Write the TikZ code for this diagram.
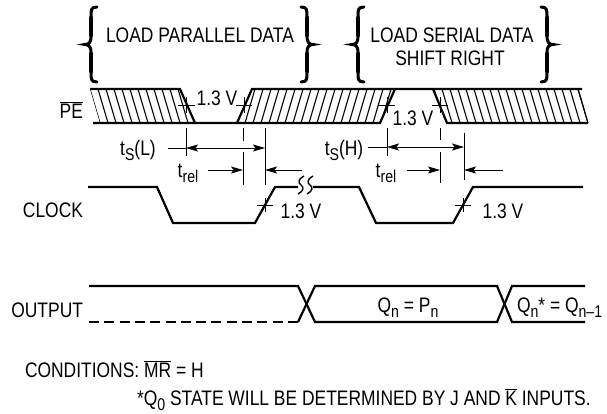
\documentclass[tikz,border=0pt]{standalone}
\usepackage{fontspec}
\setmainfont{Liberation Sans}[FakeStretch=0.83]
\usetikzlibrary{arrows.meta}
\newcommand\sbs[1]{\raisebox{-5pt}{\fontsize{17}{20}\selectfont #1}}
\newcommand\ovl[1]{$\overline{\mbox{#1}}$}
\begin{document}
\begin{tikzpicture}[x=1pt,y=-1pt,
  lbl/.style={font=\fontsize{21}{25}\selectfont, inner sep=0pt, outer sep=0pt},
  wave/.style={line width=2.2pt},
  hatch/.style={line width=1.1pt},
  thin/.style={line width=1pt},
  tip/.style={-{Stealth[length=12pt,width=7pt,inset=2.5pt]}},
  dim/.style={thin, tip},
  dimboth/.style={thin, {Stealth[length=12pt,width=7pt,inset=2.5pt]}-{Stealth[length=12pt,width=7pt,inset=2.5pt]}},
  bracestyle/.style={line width=3pt, line cap=round},
  pics/curly/.style={code={
    \draw[bracestyle] (12,0) .. controls (6,0) and (6,3) .. (6,9) -- (6,30)
      .. controls (6,35) and (4,37.5) .. (0,37.5)
      .. controls (4,37.5) and (6,40) .. (6,45) -- (6,66)
      .. controls (6,72) and (6,75) .. (12,75);
    \draw[line width=4.6pt, line cap=round] (6,11) -- (6,28) (6,47) -- (6,64);
  }}
]
\useasboundingbox (0,0) rectangle (607,413);

% braces and headings
\pic at (85,7) {curly};
\pic[xscale=-1] at (313,7) {curly};
\pic at (352,7) {curly};
\pic[xscale=-1] at (553,7) {curly};
\node[lbl, anchor=base] (lpd) at (200,42) {LOAD PARALLEL DATA};
\node[lbl, anchor=base] (lsd) at (452,42) {LOAD SERIAL DATA};
\node[lbl, anchor=base] (sr) at (450,65) {SHIFT RIGHT};

% signal labels
\node[lbl, anchor=base east] (pe) at (83,118) {\ovl{PE}};
\node[lbl, anchor=base east] (clk) at (83,217) {CLOCK};
\node[lbl, anchor=base east] (out) at (83,317) {OUTPUT};

% PE hatching
\begin{scope}
  \clip (90,89) -- (180,89) -- (195,123) -- (100,123) -- cycle;
  \foreach \k in {0,...,12} \draw[hatch] (90+8*\k,89) -- (100+8*\k,123);
\end{scope}
\begin{scope}
  \clip (237,123) -- (252,89) -- (395,89) -- (380,123) -- cycle;
  \foreach \k in {0,...,19} \draw[hatch] (237+8*\k,123) -- (247+8*\k,89);
\end{scope}
\begin{scope}
  \clip (433,89) -- (582,89) -- (588,123) -- (447,123) -- cycle;
  \foreach \k in {0,...,20} \draw[hatch] (426+8*\k,89) -- (436+8*\k,123);
\end{scope}
\draw[hatch] (578,89) -- (588,123);

% PE waveform
\draw[wave] (90,89) -- (180,89) -- (195,123);
\draw[wave] (93,123) -- (380,123) -- (395,89);
\draw[wave] (237,123) -- (252,89) -- (582,89);
\draw[wave] (433,89) -- (447,123) -- (588,123);

% PE crossing marks
\draw[thin] (178,105) -- (195,105) (186,97) -- (186,113);
\draw[thin] (236,105) -- (252,105) (244,97) -- (244,113);
\draw[thin] (378,105) -- (395,105) (387,97) -- (387,113);
\draw[thin] (432,105) -- (448,105) (440,97) -- (440,113);
\node[lbl, anchor=base] (v1) at (217,105) {1.3 V};
\node[lbl, anchor=base] (v2) at (413,125) {1.3 V};

% CLOCK waveform
\draw[wave] (88,187) -- (157,187) -- (173,223) -- (255,223) -- (275,187) -- (298,187);
\draw[wave] (313,187) -- (359,187) -- (376,223) -- (453,223) -- (473,187) -- (583,187);
\foreach \bx in {301,310}
  \draw[line width=1.4pt] (\bx+3,176) .. controls (\bx-3,179) and (\bx-3,183) .. (\bx,185)
     .. controls (\bx+3,187) and (\bx+3,191) .. (\bx-3,194);
\draw[thin] (257,205) -- (273,205) (265,198) -- (265,212);
\draw[thin] (455,205) -- (471,205) (463,198) -- (463,212);
\node[lbl, anchor=base] (v3) at (301,218) {1.3 V};
\node[lbl, anchor=base] (v4) at (503,218) {1.3 V};

% timing dimensions, parallel load
\coordinate (a1) at (186,148);
\coordinate (a2) at (265,148);
\coordinate (a0) at (168,148);
\draw[thin] (186,128) -- (186,156);
\draw[thin] (243,128) -- (243,141) (243,152) -- (243,185);
\draw[thin] (265,128) -- (265,185);
\draw[thin] (a0) -- (a1);
\draw[dimboth] (a1) -- (a2);
\draw[dim] (208,170) -- (243,170);
\draw[dim] (302,170) -- (265,170);
\node[lbl, anchor=base] (tsl) at (138,155) {t\sbs{S}(L)};
\node[lbl, anchor=base] (tr1) at (188,177) {t\sbs{rel}};

% timing dimensions, serial
\coordinate (b1) at (387,147);
\coordinate (b2) at (464,147);
\coordinate (b0) at (368,147);
\draw[thin] (387,128) -- (387,156);
\draw[thin] (440,128) -- (440,140) (440,152) -- (440,183);
\draw[thin] (464,133) -- (464,180);
\draw[thin] (b0) -- (b1);
\draw[dimboth] (b1) -- (b2);
\draw[dim] (407,170) -- (440,170);
\draw[dim] (503,170) -- (464,170);
\node[lbl, anchor=base] (tsh) at (344,155) {t\sbs{S}(H)};
\node[lbl, anchor=base] (tr2) at (386,177) {t\sbs{rel}};

% OUTPUT
\draw[wave] (89,286) -- (298,286) -- (315,322) -- (497,322) -- (512,286) -- (585,286);
\draw[wave] (298,322) -- (315,286) -- (497,286) -- (512,322) -- (585,322);
\draw[wave, dash pattern=on 10pt off 5.3pt] (89,322) -- (298,322);
\node[lbl, anchor=base] (qp) at (408,312) {Q\sbs{n} = P\sbs{n}};
\node[lbl, anchor=base west] (qq) at (517,312) {Q\sbs{n}* = Q\sbs{n–1}};

% notes
\node[lbl, anchor=base west] (cond) at (25,377) {CONDITIONS: \ovl{MR} = H};
\node[lbl, anchor=base west] (note) at (137,405) {*Q\sbs{0} STATE WILL BE DETERMINED BY J AND \ovl{K} INPUTS.};
\end{tikzpicture}
\end{document}
